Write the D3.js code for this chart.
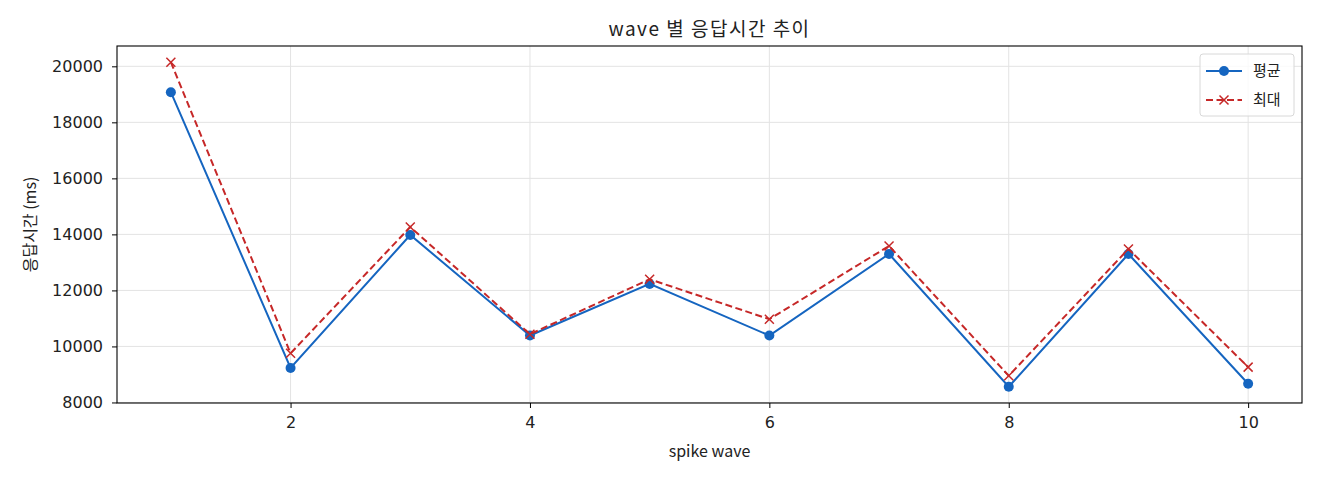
<!DOCTYPE html>
<html>
<head>
<meta charset="utf-8">
<script src="https://d3js.org/d3.v7.min.js"></script>
<style>
  body { margin: 0; background: #fff; }
  text { font-family: "Noto Sans CJK KR", "DejaVu Sans", sans-serif; fill: #222; }
  .tick text { font-family: "DejaVu Sans", sans-serif; }
</style>
</head>
<body>
<svg width="1320" height="480"></svg>
<script>
// data
var waves = [1, 2, 3, 4, 5, 6, 7, 8, 9, 10];
var avgMs = [19077, 9230, 13979, 10389, 12232, 10389, 13301, 8560, 13301, 8667];
var maxMs = [20146, 9755, 14264, 10438, 12399, 10973, 13586, 8952, 13480, 9262];
var xTicks = [2, 4, 6, 8, 10];
var yTicks = [8000, 10000, 12000, 14000, 16000, 18000, 20000];

var plotL = 117, plotR = 1302, plotT = 46, plotB = 403;
var svg = d3.select('svg');

var xScale = d3.scaleLinear().domain([0.55, 10.45]).range([plotL, plotR]);
var yMin = d3.min(avgMs), yMax = d3.max(maxMs);
var pad = (yMax - yMin) * 0.05;
var yScale = d3.scaleLinear().domain([yMin - pad, yMax + pad]).range([plotB, plotT]);

// grid
svg.append('g').selectAll('line').data(xTicks).enter().append('line')
  .attr('x1', function (d) { return xScale(d) }).attr('x2', function (d) { return xScale(d) })
  .attr('y1', plotT).attr('y2', plotB)
  .attr('stroke', '#e3e3e3').attr('stroke-width', 1);
svg.append('g').selectAll('line').data(yTicks).enter().append('line')
  .attr('y1', function (d) { return yScale(d) }).attr('y2', function (d) { return yScale(d) })
  .attr('x1', plotL).attr('x2', plotR)
  .attr('stroke', '#e3e3e3').attr('stroke-width', 1);

// axes
var xAxis = d3.axisBottom(xScale).tickValues(xTicks).tickSize(5).tickPadding(9).tickFormat(d3.format('d'));
var yAxis = d3.axisLeft(yScale).tickValues(yTicks).tickSize(5).tickPadding(9).tickFormat(d3.format('d'));
var gx = svg.append('g').attr('transform', 'translate(0,' + plotB + ')').call(xAxis);
var gy = svg.append('g').attr('transform', 'translate(' + plotL + ',0)').call(yAxis);
[gx, gy].forEach(function (g) {
  g.select('.domain').remove();
  g.selectAll('text').style('font-size', '16px').attr('fill', '#222');
  g.selectAll('line').attr('stroke', '#000');
});

// frame
svg.append('rect').attr('x', plotL).attr('y', plotT)
  .attr('width', plotR - plotL).attr('height', plotB - plotT)
  .attr('fill', 'none').attr('stroke', '#000').attr('stroke-width', 1.1);

var line = d3.line()
  .x(function (d, i) { return xScale(waves[i]) })
  .y(function (d) { return yScale(d) });

// 평균
svg.append('path').datum(avgMs).attr('d', line)
  .attr('fill', 'none').attr('stroke', '#1565c0').attr('stroke-width', 2);
svg.append('g').selectAll('circle').data(avgMs).enter().append('circle')
  .attr('cx', function (d, i) { return xScale(waves[i]) })
  .attr('cy', function (d) { return yScale(d) })
  .attr('r', 5).attr('fill', '#1565c0');

// 최대
svg.append('path').datum(maxMs).attr('d', line)
  .attr('fill', 'none').attr('stroke', '#c62828').attr('stroke-width', 2)
  .attr('stroke-dasharray', '7,3.5');
function cross(g, cx, cy, s) {
  g.append('path')
    .attr('d', 'M' + (cx - s) + ',' + (cy - s) + 'L' + (cx + s) + ',' + (cy + s) +
               'M' + (cx - s) + ',' + (cy + s) + 'L' + (cx + s) + ',' + (cy - s))
    .attr('stroke', '#c62828').attr('stroke-width', 1.5).attr('fill', 'none');
}
var gm = svg.append('g');
maxMs.forEach(function (d, i) { cross(gm, xScale(waves[i]), yScale(d), 4.5) });

// title and labels
svg.append('text').attr('x', (plotL + plotR) / 2).attr('y', 36)
  .attr('text-anchor', 'middle').style('font-size', '19px').style('letter-spacing', '1.5px')
  .text('wave 별 응답시간 추이');
svg.append('text').attr('x', (plotL + plotR) / 2).attr('y', 457)
  .attr('text-anchor', 'middle').style('font-size', '16px').text('spike wave');
svg.append('text').attr('transform', 'translate(36,' + ((plotT + plotB) / 2) + ') rotate(-90)')
  .attr('text-anchor', 'middle').style('font-size', '16px').text('응답시간 (ms)');

// legend
var lg = svg.append('g').attr('transform', 'translate(1200,54)');
lg.append('rect').attr('width', 94).attr('height', 62).attr('rx', 3)
  .attr('fill', '#fff').attr('fill-opacity', 0.8).attr('stroke', '#d8d8d8');
lg.append('line').attr('x1', 6).attr('x2', 42).attr('y1', 17).attr('y2', 17)
  .attr('stroke', '#1565c0').attr('stroke-width', 2);
lg.append('circle').attr('cx', 24).attr('cy', 17).attr('r', 5).attr('fill', '#1565c0');
lg.append('text').attr('x', 53).attr('y', 22).style('font-size', '15px').text('평균');
lg.append('line').attr('x1', 6).attr('x2', 42).attr('y1', 46).attr('y2', 46)
  .attr('stroke', '#c62828').attr('stroke-width', 2).attr('stroke-dasharray', '7,3.5');
cross(lg, 24, 46, 4.5);
lg.append('text').attr('x', 53).attr('y', 51).style('font-size', '15px').text('최대');
</script>
</body>
</html>
